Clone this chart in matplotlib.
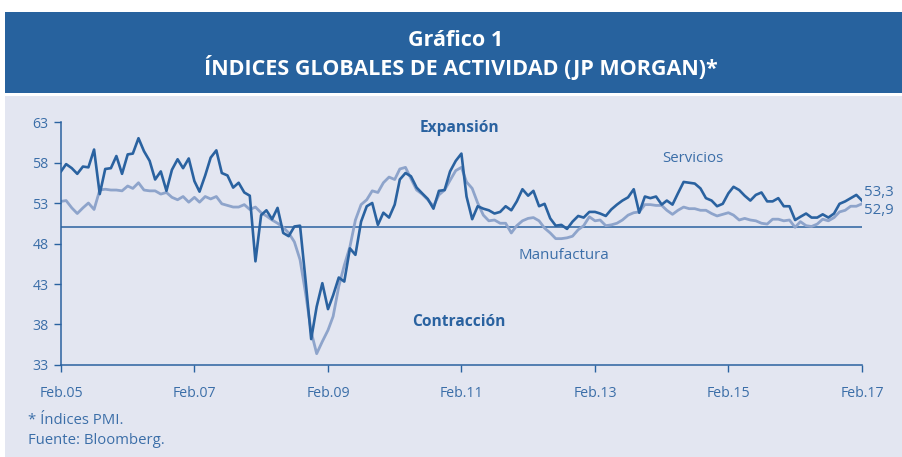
import numpy as np
import pandas as pd
import matplotlib
matplotlib.use("Agg")
import matplotlib.pyplot as plt
import matplotlib.dates as mdates
from matplotlib.patches import Rectangle

plt.rcParams['font.family'] = ['Open Sans', 'DejaVu Sans']

# meses: feb.2005 - feb.2017
fechas = pd.date_range('2005-02-01', '2017-02-01', freq='MS')

servicios = [
    56.9, 57.8, 57.3, 56.6, 57.5, 57.4, 59.6, 54.1, 57.2, 57.3,
    58.8, 56.6, 59.0, 59.1, 61.0, 59.4, 58.2, 55.9, 56.9, 54.5,
    57.1, 58.4, 57.3, 58.5, 55.7, 54.4, 56.4, 58.6, 59.5, 56.7,
    56.4, 54.9, 55.5, 54.3, 53.9, 45.8, 51.5, 52.1, 51.0, 52.4,
    49.3, 48.9, 50.1, 50.2, 43.5, 36.2, 40.2, 43.1, 39.9, 41.6,
    43.8, 43.3, 47.4, 46.6, 50.7, 52.6, 53.0, 50.3, 51.8, 51.2,
    52.8, 55.9, 56.7, 56.3, 54.9, 54.2, 53.5, 52.3, 54.5, 54.6,
    56.9, 58.2, 59.1, 53.8, 51.0, 52.6, 52.3, 52.1, 51.7, 51.9,
    52.6, 52.1, 53.2, 54.7, 53.9, 54.5, 52.6, 52.9, 51.1, 50.2,
    50.3, 49.8, 50.7, 51.4, 51.2, 51.9, 51.9, 51.7, 51.4, 52.2,
    52.8, 53.3, 53.7, 54.7, 51.8, 53.8, 53.6, 53.8, 52.8, 53.3,
    52.8, 54.2, 55.6, 55.5, 55.4, 54.8, 53.6, 53.3, 52.6, 52.9,
    54.2, 55.0, 54.6, 53.9, 53.3, 54.0, 54.3, 53.2, 53.2, 53.6,
    52.6, 52.6, 50.9, 51.3, 51.7, 51.2, 51.2, 51.6, 51.2, 51.7,
    52.9, 53.2, 53.6, 54.0, 53.3,
]

manufactura = [
    53.2, 53.3, 52.4, 51.7, 52.4, 53.0, 52.2, 54.6, 54.7, 54.6,
    54.6, 54.5, 55.1, 54.8, 55.5, 54.6, 54.5, 54.5, 54.1, 54.3,
    53.7, 53.4, 53.8, 53.1, 53.7, 53.1, 53.8, 53.5, 53.8, 52.9,
    52.7, 52.5, 52.5, 52.8, 52.2, 52.5, 51.8, 51.4, 50.9, 50.5,
    50.0, 49.3, 48.2, 46.0, 41.9, 37.1, 34.4, 35.9, 37.3, 39.0,
    42.7, 45.3, 47.6, 50.9, 52.8, 53.4, 54.5, 54.3, 55.5, 56.2,
    55.9, 57.2, 57.4, 56.0, 54.6, 54.1, 53.4, 52.6, 54.0, 54.6,
    55.8, 57.0, 57.4, 55.6, 54.8, 53.0, 51.5, 50.8, 50.9, 50.5,
    50.5, 49.3, 50.2, 50.8, 51.1, 51.2, 50.8, 49.9, 49.3, 48.6,
    48.6, 48.7, 48.9, 49.7, 50.2, 51.3, 50.8, 50.9, 50.2, 50.3,
    50.5, 50.9, 51.5, 51.8, 51.9, 52.8, 52.8, 52.7, 52.7, 52.1,
    51.6, 52.1, 52.5, 52.3, 52.3, 52.1, 52.1, 51.7, 51.4, 51.6,
    51.8, 51.5, 50.9, 51.1, 50.9, 50.8, 50.5, 50.4, 51.0, 51.0,
    50.8, 50.9, 50.0, 50.7, 50.2, 50.1, 50.4, 51.0, 50.8, 51.2,
    51.9, 52.1, 52.6, 52.6, 52.9,
]

azul = '#2a62a0'
azul_claro = '#8ea4cb'
texto = '#3b6ea8'
fondo = '#e3e6f1'

fig = plt.figure(figsize=(9.03, 4.57), dpi=100)
fig.patch.set_facecolor('white')

# banda del título y panel gris
fig.add_artist(Rectangle((5 / 903, 1 - 93 / 457), 1, 81 / 457, transform=fig.transFigure,
                         facecolor='#27629e', edgecolor='none', zorder=0))
fig.add_artist(Rectangle((5 / 903, 0), 1, 1 - 96 / 457, transform=fig.transFigure,
                         facecolor=fondo, edgecolor='none', zorder=0))
fig.text(0.505, 1 - 40 / 457, 'Gráfico 1', ha='center', va='center', color='white',
         fontsize=15.5, fontweight='bold')
fig.text(0.51, 1 - 67 / 457, 'ÍNDICES GLOBALES DE ACTIVIDAD (JP MORGAN)*', ha='center',
         va='center', color='white', fontsize=15.5, fontweight='bold')

ax = fig.add_axes([61 / 903, 92 / 457, 801 / 903, 243 / 457])
ax.set_facecolor('none')

ax.axhline(50, color=azul, linewidth=1.1, zorder=1)
ax.plot(fechas, manufactura, color=azul_claro, linewidth=2.0, zorder=2)
ax.plot(fechas, servicios, color=azul, linewidth=1.9, zorder=3)

ax.set_xlim(fechas[0], fechas[-1])
ax.set_ylim(33, 63)
ax.set_yticks([33, 38, 43, 48, 53, 58, 63])
ax.set_xticks(fechas[::24])
ax.xaxis.set_major_formatter(mdates.DateFormatter('Feb.%y'))

for s in ['top', 'right']:
    ax.spines[s].set_visible(False)
for s in ['left', 'bottom']:
    ax.spines[s].set_color(azul)
    ax.spines[s].set_linewidth(1.1)
ax.tick_params(colors=azul, labelcolor=texto, labelsize=10.2, length=5, width=1)
ax.tick_params(axis='x', pad=10)
ax.tick_params(axis='y', pad=4)

ax.text(0.497, 0.975, 'Expansión', transform=ax.transAxes, ha='center', va='center',
        color=azul, fontsize=11.2, fontweight='bold')
ax.text(0.497, 0.177, 'Contracción', transform=ax.transAxes, ha='center', va='center',
        color=azul, fontsize=11.2, fontweight='bold')
ax.text(0.751, 0.85, 'Servicios', transform=ax.transAxes, ha='left', va='center',
        color=texto, fontsize=10.8)
ax.text(0.571, 0.45, 'Manufactura', transform=ax.transAxes, ha='left', va='center',
        color=texto, fontsize=10.8)
ax.text(1.003, 0.71, '53,3', transform=ax.transAxes, ha='left', va='center',
        color=texto, fontsize=10.8)
ax.text(1.003, 0.636, '52,9', transform=ax.transAxes, ha='left', va='center',
        color=texto, fontsize=10.8)

fig.text(28 / 903, 1 - 421 / 457, '* Índices PMI.', ha='left', va='center', color=texto,
         fontsize=10.7)
fig.text(28 / 903, 1 - 440 / 457, 'Fuente: Bloomberg.', ha='left', va='center',
         color=texto, fontsize=10.7)

fig.savefig('out.png', dpi=100)
